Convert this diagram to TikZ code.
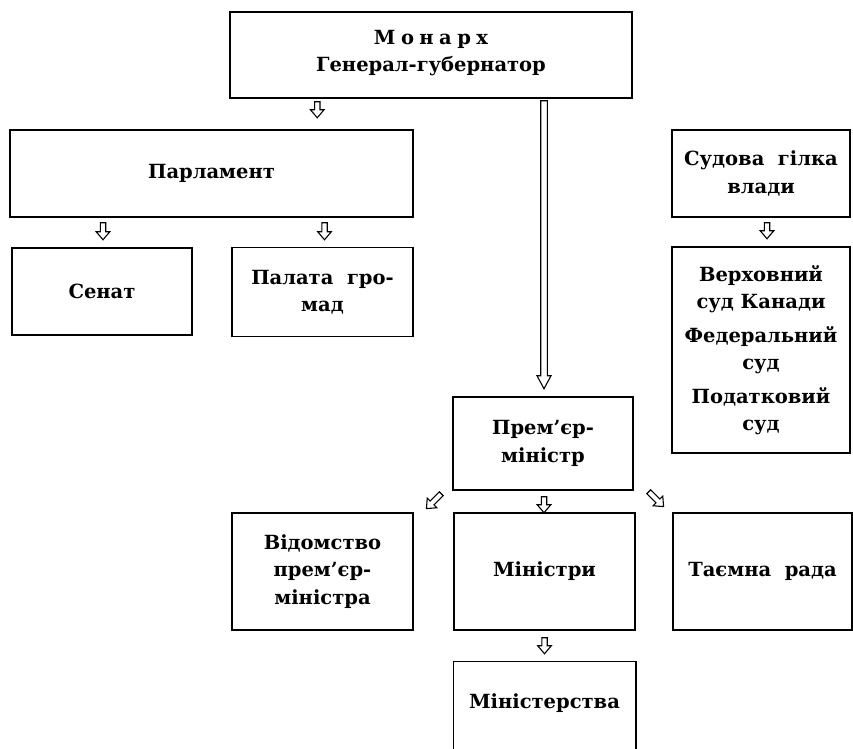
\documentclass[tikz,border=0pt]{standalone}
\usepackage{fontspec}
\setmainfont{DejaVu Serif}
\usetikzlibrary{calc}
\newcommand{\blkarrow}[6]{% start, angle, length, shaft half width, head half width, head length
  \draw[arrline, shift={#1}, rotate=#2] (0,-#4) -- ({#3-#6},-#4) -- ({#3-#6},-#5) -- (#3,0) -- ({#3-#6},#5) -- ({#3-#6},#4) -- (0,#4) -- cycle;}
\newcommand{\smallarrow}[3]{\blkarrow{#1}{#2}{#3}{2.7}{6.8}{8}}
\begin{document}
\begin{tikzpicture}[x=1pt,y=-1pt,
  box/.style={draw, line width=1.5pt, inner sep=0pt, align=center,
    font=\bfseries\fontsize{19.5}{27.5}\selectfont},
  arrline/.style={draw, line width=1.1pt, fill=white, line join=miter}]
\clip (0,0) rectangle (853,748);
\fill[white] (0,0) rectangle (853,748);
% boxes
\node[box, minimum width=402, minimum height=86] (mon) at (431,55)
  {{\addfontfeature{LetterSpace=28}Монарх}\\Генерал-губернатор\\[-19pt]\mbox{}};
\node[box, minimum width=403, minimum height=87] (parl) at (211.5,173.5) {Парламент};
\node[box, minimum width=180, minimum height=87] (sen) at (102,291.5) {Сенат};
\node[box, minimum width=181, minimum height=89] (pal) at (322.5,292) {Палата\ \ гро-\\мад};
\node[box, minimum width=178, minimum height=87] (sud) at (761,173.5) {Судова\ \ гілка\\влади};
\node[box, minimum width=178, minimum height=206] (ver) at (761,350)
  {Верховний\\суд\ Канади\\[6pt]Федеральний\\суд\\[6pt]Податковий\\суд};
\node[box, minimum width=180, minimum height=93] (pm) at (543,443.5) {Прем’єр-\\міністр};
\node[box, minimum width=181, minimum height=117] (vid) at (322.5,571.5) {Відомство\\прем’єр-\\міністра};
\node[box, minimum width=181, minimum height=117] (min) at (544.5,571.5) {Міністри};
\node[box, minimum width=179, minimum height=117] (tae) at (762.5,571.5) {Таємна\ \ рада};
\node[box, draw=none, minimum width=181, minimum height=82] (mst) at (544.5,703) {Міністерства};
\draw[line width=1.5pt] ($(mst.south west)+(0,20)$) |- (mst.north east) -- ($(mst.south east)+(0,20)$);
% arrows
\smallarrow{($(mon.south west)+(88,3)$)}{-90}{16}
\blkarrow{($(mon.south -| pm.north)+(1,2)$)}{-90}{288}{3.3}{7}{13}
\smallarrow{($(parl.south -| sen.north)+(1,5)$)}{-90}{17}
\smallarrow{($(parl.south -| pal.north)+(2,5)$)}{-90}{17}
\smallarrow{($(sud.south)+(6,5)$)}{-90}{16}
\smallarrow{($(pm.south)+(1,6)$)}{-90}{16}
\smallarrow{($(pm.south west)+(-11,3)$)}{-135}{21}
\smallarrow{($(pm.south east)+(15,1)$)}{-45}{21}
\smallarrow{($(min.south)+(0,7)$)}{-90}{16}
\end{tikzpicture}
\end{document}
